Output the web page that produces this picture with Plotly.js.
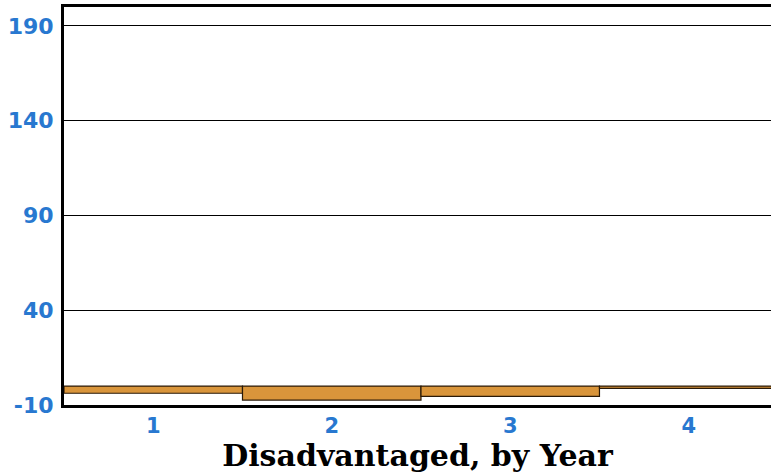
<!DOCTYPE html>
<html>
<head>
<meta charset="utf-8">
<script src="https://cdn.plot.ly/plotly-3.0.1.min.js"></script>
<style>html,body{margin:0;padding:0;background:#fff;overflow:hidden}#chart{width:771px;height:473px}</style>
</head>
<body>
<div id="chart"></div>
<script>
var categories = [1, 2, 3, 4];
var values = [-3.8, -7.4, -5.4, -1.2];
var yTicks = [-10, 40, 90, 140, 190];
var xTitle = "Disadvantaged, by Year";

var trace = {
  type: "bar",
  x: categories,
  y: values,
  width: 1,
  marker: {color: "#d9953b", line: {color: "#2a1a08", width: 1.2}},
  hoverinfo: "x+y"
};

var layout = {
  width: 771, height: 473,
  margin: {l: 64, r: 0, t: 7, b: 68},
  paper_bgcolor: "#fff", plot_bgcolor: "#fff",
  showlegend: false,
  bargap: 0,
  xaxis: {
    range: [0.5, 4.461],
    tickvals: categories,
    ticktext: categories.map(String),
    showgrid: false, zeroline: false,
    showline: true, linecolor: "#000", linewidth: 3, mirror: true,
    ticks: "",
    tickfont: {family: "DejaVu Sans", size: 21, color: "#2878d0", weight: "bold"},
    title: {text: "<b>" + xTitle + "</b>", font: {family: "DejaVu Serif", size: 30, color: "#000"}, standoff: 5}
  },
  yaxis: {
    range: [-10, 200],
    tickvals: yTicks,
    ticktext: yTicks.map(String),
    showgrid: true, gridcolor: "#000", gridwidth: 1,
    zeroline: false,
    showline: true, linecolor: "#000", linewidth: 3, mirror: true,
    ticks: "", ticklen: 0,
    ticklabelstandoff: 3,
    tickfont: {family: "DejaVu Sans", size: 22, color: "#2878d0", weight: "bold"}
  }
};

Plotly.newPlot("chart", [trace], layout, {displayModeBar: false, staticPlot: true});
</script>
</body>
</html>
